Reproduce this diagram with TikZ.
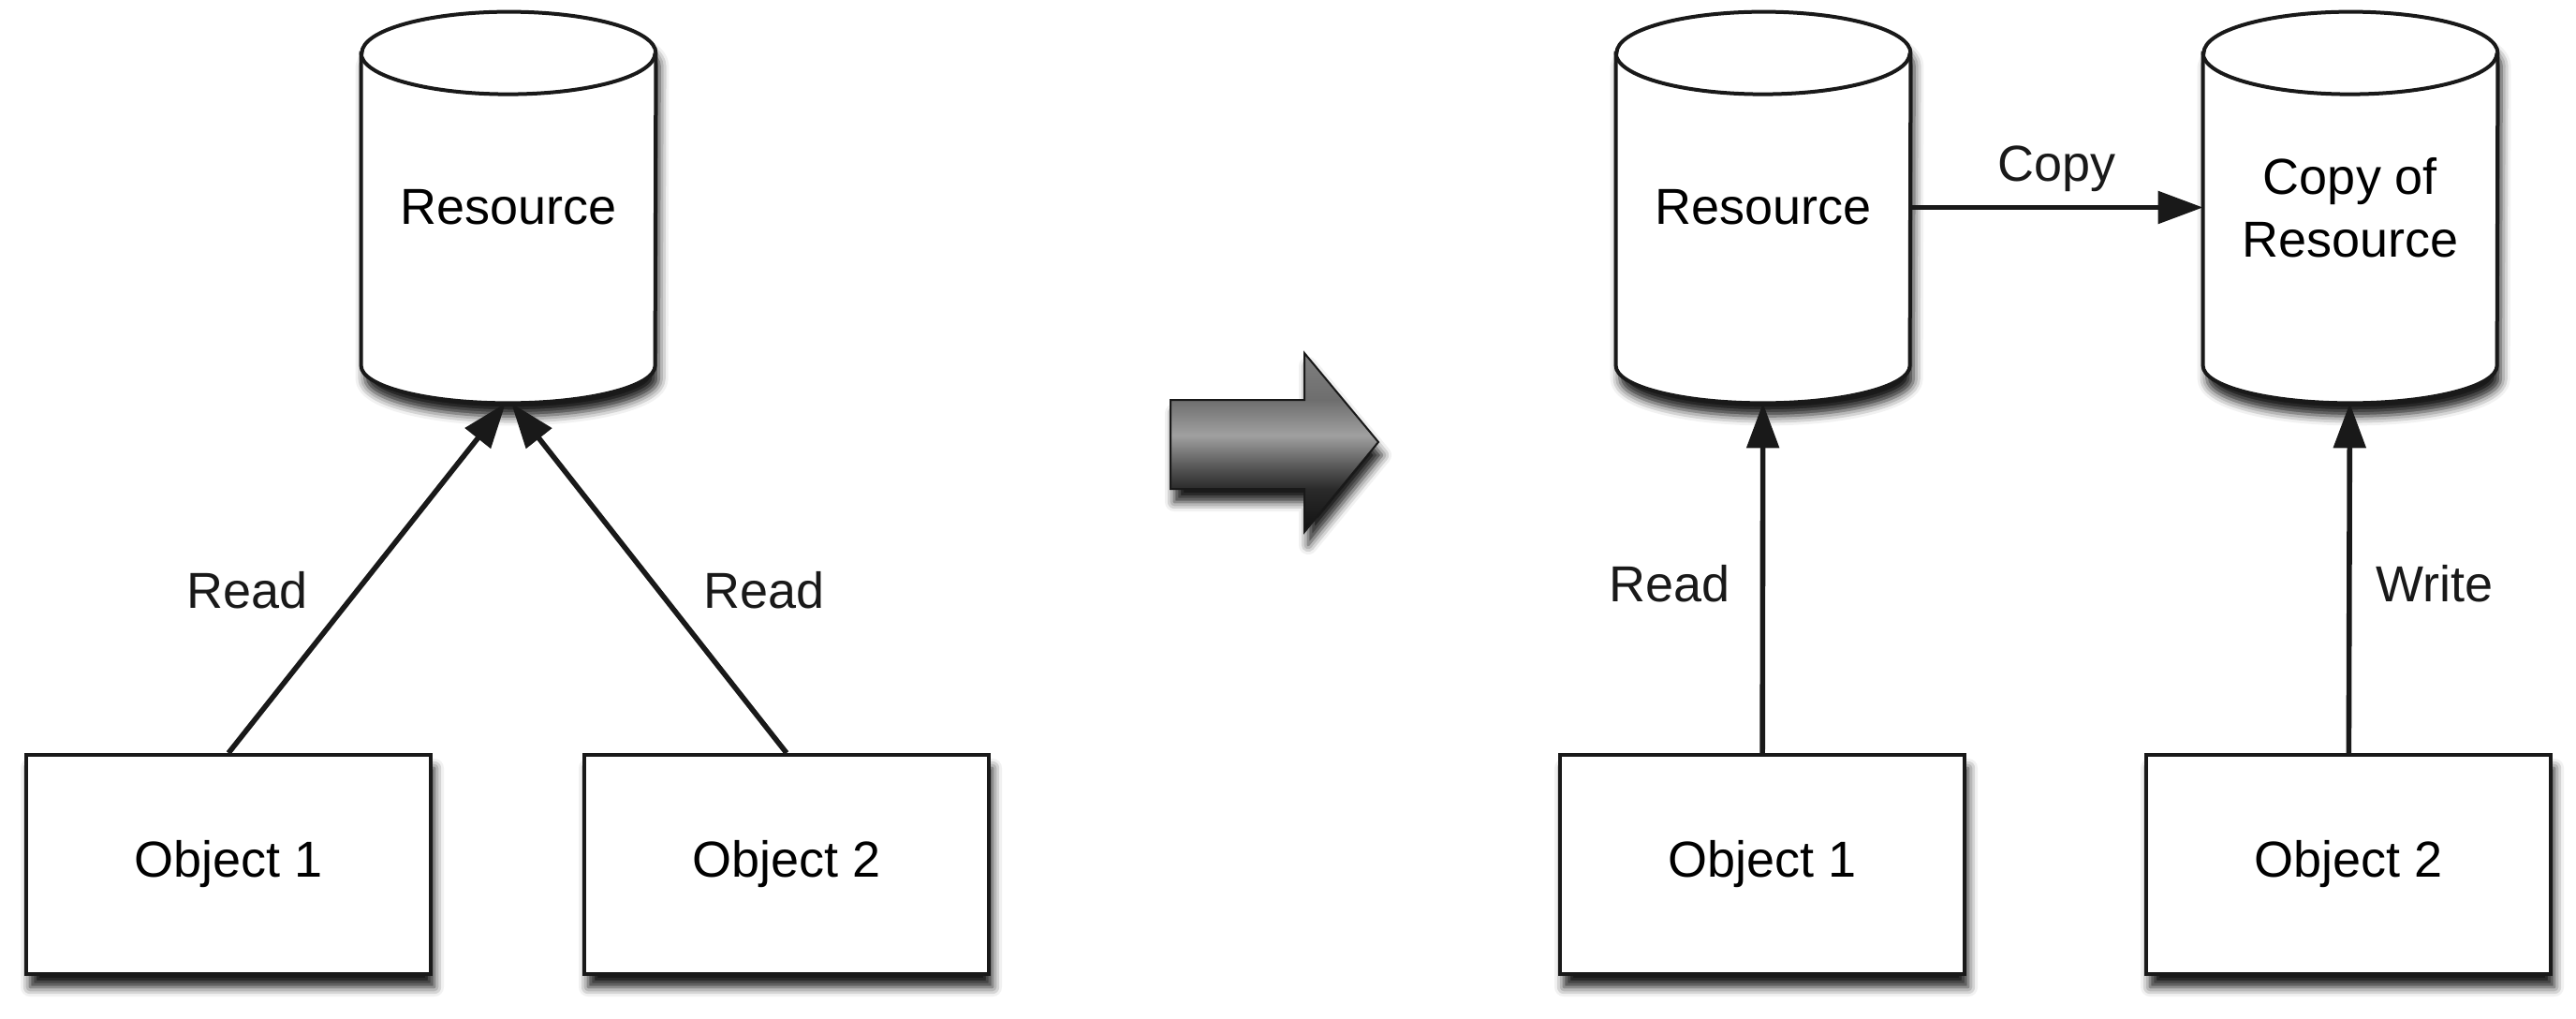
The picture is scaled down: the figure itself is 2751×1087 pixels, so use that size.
\documentclass[tikz,border=0pt]{standalone}
\usepackage{fontspec}
\setmainfont{Liberation Sans}
\usepackage{tikz}
\usetikzlibrary{shapes, arrows.meta, positioning, calc, backgrounds, shadows, shadows.blur}
\definecolor{arrowa}{RGB}{17, 17, 17}
\definecolor{arrowb}{RGB}{42, 42, 42}
\definecolor{arrowc}{RGB}{85, 85, 85}
\definecolor{arrowd}{RGB}{160, 160, 160}
\definecolor{arrowe}{RGB}{110, 110, 110}
\definecolor{arrowf}{RGB}{128, 128, 128}
\pgfdeclareverticalshading{arrowshade}{100bp}{color(0bp)=(arrowa); color(25bp)=(arrowa); color(37bp)=(arrowb); color(43bp)=(arrowc); color(52bp)=(arrowd); color(62bp)=(arrowe); color(75bp)=(arrowf); color(100bp)=(arrowf)}
\tikzset{
    softshadow/.style={
        blur shadow={shadow xshift=2pt, shadow yshift=-7pt, shadow blur radius=5pt, shadow opacity=90}
    },
    object/.style={
        rectangle,
        draw=black!90,
        line width=2pt,
        minimum height=117pt,
        minimum width=216pt,
        inner sep=0pt,
        align=center,
        fill=white,
        softshadow
    },
    storage/.style={
        rectangle,
        minimum height=208.5pt,
        minimum width=157pt,
        inner sep=0pt,
        align=center
    },
    drumbody/.style={draw=black!90, line width=2pt, fill=white, softshadow},
    drumline/.style={draw=black!90, line width=2pt},
    label/.style={inner sep=0pt},
    line/.style={draw, line width=2.8pt, black!90, -{Triangle[length=24pt, width=17pt]}},
    bigarrow/.style={draw=black!90, line width=1pt, shade, shading=arrowshade, softshadow}
}

\begin{document}
\begin{tikzpicture}[x=0.5pt, y=-0.5pt, font=\fontsize{27}{33.5}\selectfont]
    \useasboundingbox (0,0) rectangle (2751,1087);

    % Before
    \node[storage] (res) at (543,221.5) {Resource};
    \node[object] (obj1) at (244,923) {Object 1};
    \node[object] (obj2) at (840,923) {Object 2};

    \path[line] (obj1.north) -- node[label, pos=0.465, left=25pt] {Read} ($(res.south)+(-3,0)$);
    \path[line] (obj2.north) -- node[label, pos=0.465, right=22.5pt] {Read} ($(res.south)+(3,0)$);

    % Transition arrow
    \path[bigarrow] (1250,427) -- (1393,427) -- (1393,377) -- (1472,472) -- (1393,568) -- (1393,522) -- (1250,522) -- cycle;

    % After
    \node[storage] (res2) at (1883,221.5) {Resource};
    \node[storage] (copy) at (2510,221.5) {Copy of\\Resource};
    \node[object] (obj3) at (1882,923) {Object 1};
    \node[object] (obj4) at (2508,923) {Object 2};

    \path[line] (res2) -- node[label, midway, above=7pt] {Copy} (copy);
    \path[line] (obj3) -- node[label, pos=0.485, left=16pt] {Read} (res2);
    \path[line] (obj4) -- node[label, pos=0.485, right=13pt] {Write} (copy);

    % Cylinders
    \begin{scope}[on background layer]
        \foreach \n in {res, res2, copy} {
            \path[drumbody] ($(\n.north west)+(0,44)$) -- ($(\n.south west)+(0,-40)$)
                arc[start angle=180, end angle=360, x radius=78.5pt, y radius=20pt]
                -- ($(\n.north east)+(0,44)$)
                arc[start angle=0, end angle=180, x radius=78.5pt, y radius=22pt] -- cycle;
            \path[drumline] ($(\n.north west)+(0,44)$)
                arc[start angle=180, end angle=360, x radius=78.5pt, y radius=22pt];
        }
    \end{scope}

\end{tikzpicture}
\end{document}
